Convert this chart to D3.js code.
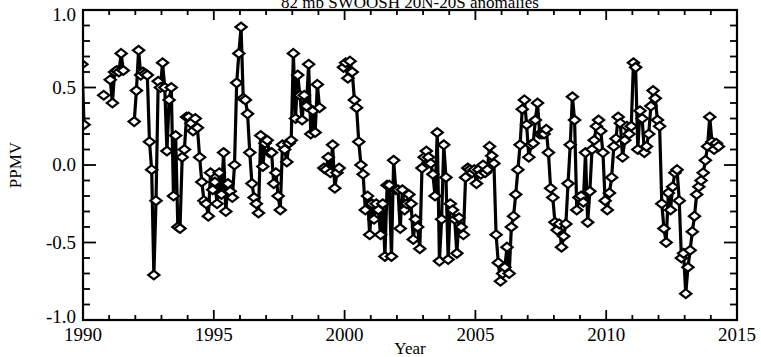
<!DOCTYPE html>
<html><head><meta charset="utf-8">
<script src="https://d3js.org/d3.v7.min.js"></script>
<style>
body{margin:0;background:#fff;}
svg text{font-family:"Liberation Serif","Times New Roman",serif;fill:#000;}
</style></head>
<body><svg id="c" width="761" height="357"></svg>
<script>
// ---- data: monthly anomalies (ppmv), null = missing ----
const title = "82 mb SWOOSH 20N-20S anomalies";
const xLabel = "Year";
const yLabel = "PPMV";
const xTickLabels = ["1990","1995","2000","2005","2010","2015"];
const yTickLabels = ["-1.0","-0.5","0.0","0.5","1.0"];
const startYear = 1989;
const y1989 = [null,null,null,null,null,null,null,null,null,null,null,0.65];
const y1990 = [0.26,null,null,null,null,null,null,null,null,0.45,null,null];
const y1991 = [0.55,0.40,0.60,0.61,0.60,0.72,0.61,null,null,null,null,0.28];
const y1992 = [0.48,0.74,0.58,0.60,0.59,0.58,0.15,-0.03,-0.71,-0.23,0.54,0.50];
const y1993 = [0.66,0.50,0.09,0.42,0.50,-0.20,0.19,-0.40,-0.41,0.05,0.10,0.31];
const y1994 = [0.31,0.27,0.22,0.30,0.24,0.05,-0.11,-0.23,-0.25,-0.33,-0.05,-0.16];
const y1995 = [-0.11,-0.25,-0.05,-0.19,0.08,-0.30,-0.12,-0.17,-0.21,0.00,0.53,0.72];
const y1996 = [0.89,0.43,0.42,0.33,0.08,-0.12,-0.21,-0.25,-0.31,0.19,-0.01,0.14];
const y1997 = [0.16,0.08,0.08,-0.12,-0.05,-0.20,-0.29,0.13,0.10,0.02,0.14,0.16];
const y1998 = [0.72,0.30,0.58,0.45,0.29,0.45,0.38,0.65,0.20,0.35,0.21,0.52];
const y1999 = [0.37,null,-0.02,-0.03,0.05,-0.05,0.13,-0.15,-0.05,-0.02,null,0.63];
const y2000 = [0.66,0.56,0.67,0.60,0.42,0.37,0.15,0.00,-0.06,-0.29,-0.20,-0.45];
const y2001 = [-0.25,-0.35,-0.25,-0.29,-0.45,-0.25,-0.59,-0.13,-0.13,-0.59,0.03,-0.16];
const y2002 = [-0.16,-0.41,-0.16,-0.29,-0.25,-0.19,-0.25,-0.48,-0.35,-0.40,-0.54,-0.02];
const y2003 = [0.05,0.09,0.05,0.01,-0.06,-0.20,0.21,-0.62,-0.35,0.13,-0.08,-0.61];
const y2004 = [-0.25,-0.29,-0.35,-0.57,-0.34,-0.40,-0.45,-0.08,-0.02,-0.03,-0.05,-0.03];
const y2005 = [-0.12,-0.03,-0.06,0.00,-0.05,-0.03,0.12,0.06,0.01,-0.45,-0.63,-0.75];
const y2006 = [-0.70,-0.66,-0.53,-0.70,-0.40,-0.33,-0.19,-0.03,0.13,0.36,0.42,0.26];
const y2007 = [0.05,0.13,0.14,0.29,0.40,0.20,0.20,0.20,0.23,0.08,-0.15,-0.21];
const y2008 = [-0.37,-0.42,-0.38,-0.53,-0.46,-0.38,-0.12,0.13,0.44,0.29,-0.29,-0.21];
const y2009 = [-0.20,-0.24,0.08,-0.37,-0.17,0.10,0.16,0.25,0.29,0.22,0.08,-0.23];
const y2010 = [-0.29,-0.18,-0.08,0.12,0.17,0.31,0.27,0.05,0.16,0.25,0.20,0.25];
const y2011 = [0.66,0.63,0.10,0.35,0.30,0.08,0.12,0.20,0.38,0.48,0.43,0.29];
const y2012 = [0.25,-0.25,-0.41,-0.50,-0.18,-0.29,-0.14,-0.05,-0.03,-0.23,-0.60,-0.57];
const y2013 = [-0.83,-0.66,-0.55,-0.43,-0.33,-0.19,-0.14,-0.10,-0.05,0.03,0.12,0.31];
const y2014 = [0.15,0.10,0.14,0.12,null,null,null,null,null,null,null,null];
const years = [y1989,y1990,y1991,y1992,y1993,y1994,y1995,y1996,y1997,y1998,y1999,y2000,
  y2001,y2002,y2003,y2004,y2005,y2006,y2007,y2008,y2009,y2010,y2011,y2012,y2013,y2014];

const series = [];
years.forEach((arr,yi)=>arr.forEach((v,m)=>series.push({t:startYear+yi+(m+0.5)/12, v:v})));

// ---- layout ----
const svg = d3.select("#c");
const L=83, R=737, T=10, B=320;
const x = d3.scaleLinear().domain([1990,2015]).range([L,R]);
const y = d3.scaleLinear().domain([-1,1]).range([B,T]);

svg.append("defs").append("clipPath").attr("id","pc")
  .append("rect").attr("x",L).attr("y",T).attr("width",R-L).attr("height",B-T);

const g = svg.append("g").attr("clip-path","url(#pc)");
const line = d3.line().defined(d=>d.v!==null).x(d=>x(d.t)).y(d=>y(d.v));
g.append("path").datum(series).attr("d",line)
  .attr("fill","none").attr("stroke","#000").attr("stroke-width",3.2).attr("stroke-linejoin","round");
const dw=5.6, dh=4.4;
g.selectAll("path.pt").data(series.filter(d=>d.v!==null)).join("path").attr("class","pt")
  .attr("d",d=>{const cx=x(d.t), cy=y(d.v); return `M${cx},${cy-dh}L${cx+dw},${cy}L${cx},${cy+dh}L${cx-dw},${cy}Z`;})
  .attr("fill","#fff").attr("stroke","#000").attr("stroke-width",2.2);

// ---- frame and ticks ----
const ax = svg.append("g");
ax.append("rect").attr("x",L).attr("y",T).attr("width",R-L).attr("height",B-T)
  .attr("fill","none").attr("stroke","#000").attr("stroke-width",2.2);
const yearTicks = d3.range(1990,2016,1);
yearTicks.forEach(t=>{
  const major = (t%5===0);
  const len = major?10:5;
  ax.append("line").attr("x1",x(t)).attr("x2",x(t)).attr("y1",B).attr("y2",B-len).attr("stroke","#000").attr("stroke-width",1.8);
  ax.append("line").attr("x1",x(t)).attr("x2",x(t)).attr("y1",T).attr("y2",T+len).attr("stroke","#000").attr("stroke-width",1.8);
});
const vTicks = d3.range(-10,11,1).map(k=>k/10);
vTicks.forEach(v=>{
  const major = Math.abs(Math.round(v*10))%5===0;
  const len = major?13:7;
  ax.append("line").attr("x1",L).attr("x2",L+len).attr("y1",y(v)).attr("y2",y(v)).attr("stroke","#000").attr("stroke-width",1.8);
  ax.append("line").attr("x1",R).attr("x2",R-len).attr("y1",y(v)).attr("y2",y(v)).attr("stroke","#000").attr("stroke-width",1.8);
});
const fs = 19;
xTickLabels.forEach(s=>{
  ax.append("text").attr("x",x(+s)).attr("y",341).attr("text-anchor","middle").attr("font-size",fs).text(s);
});
yTickLabels.forEach(s=>{
  const v=+s; let yy=y(v)+6;
  if(v===1) yy+=5; if(v===-1) yy-=3;
  ax.append("text").attr("x",L-7).attr("y",yy).attr("text-anchor","end").attr("font-size",fs).text(s);
});
svg.append("text").attr("x",(L+R)/2).attr("y",354).attr("text-anchor","middle").attr("font-size",17).text(xLabel);
svg.append("text").attr("transform",`translate(21,${(T+B)/2}) rotate(-90)`).attr("text-anchor","middle").attr("font-size",17).text(yLabel);
svg.append("text").attr("x",(L+R)/2).attr("y",8).attr("text-anchor","middle").attr("font-size",17).text(title);
</script></body></html>
